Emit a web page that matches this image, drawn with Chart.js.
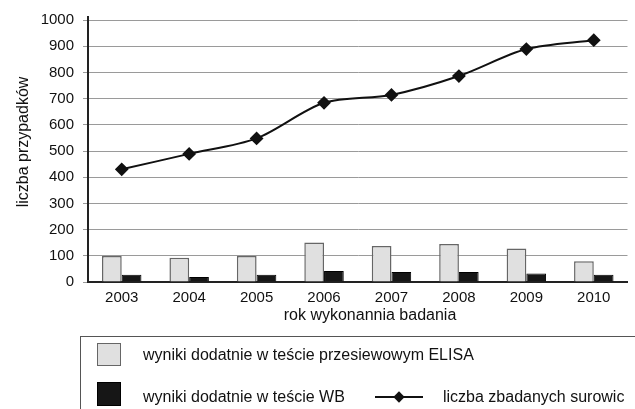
<!DOCTYPE html>
<html>
<head>
<meta charset="utf-8">
<script src="https://cdn.jsdelivr.net/npm/chart.js@4/dist/chart.umd.min.js"></script>
<style>
  html, body { margin: 0; padding: 0; background: #fff; }
  #wrap { position: relative; width: 635px; height: 409px; overflow: hidden; font-family: "Liberation Sans", Arial, sans-serif; }
  #c { position: absolute; left: 0; top: 0; }
  .legbox { position: absolute; left: 80px; top: 336px; width: 600px; height: 120px; border: 1px solid #555; box-sizing: border-box; }
  .sq { position: absolute; box-sizing: border-box; }
  .lt { position: absolute; font-size: 16px; color: #111; line-height: 18px; white-space: nowrap; }
  .lline { position: absolute; height: 2px; background: #111; }
  .ldia { position: absolute; width: 8px; height: 8px; background: #111; transform: rotate(45deg); }
</style>
</head>
<body>
<div id="wrap">
  <canvas id="c" width="635" height="409"></canvas>
  <div class="legbox"></div>
  <div class="sq" style="left:97px;top:343px;width:24px;height:23px;background:#e0e0e0;border:1px solid #666;"></div>
  <div class="lt" style="left:143px;top:346px;">wyniki dodatnie w teście przesiewowym ELISA</div>
  <div class="sq" style="left:97px;top:382px;width:24px;height:24px;background:#161616;border:1px solid #000;"></div>
  <div class="lt" style="left:143px;top:388px;">wyniki dodatnie w teście WB</div>
  <div class="lline" style="left:375px;top:396px;width:48px;"></div>
  <div class="ldia" style="left:395px;top:393px;"></div>
  <div class="lt" style="left:443px;top:388px;">liczba zbadanych surowic</div>
</div>
<script>
const years = ["2003","2004","2005","2006","2007","2008","2009","2010"];
const elisaPositive = [99, 93, 99, 151, 137, 145, 128, 79];
const wbPositive = [28, 19, 28, 42, 38, 38, 32, 28];
const testedSera = [430, 489, 548, 684, 714, 786, 889, 923];
const yTicks = [0,100,200,300,400,500,600,700,800,900,1000];
const yTitle = "liczba przypadków";
const xTitle = "rok wykonannia badania";

const titlesPlugin = {
  id: 'axisTitles',
  afterDraw(chart) {
    const ctx = chart.ctx;
    ctx.save();
    ctx.fillStyle = '#111';
    ctx.font = '16px "Liberation Sans", Arial, sans-serif';
    ctx.textAlign = 'center';
    ctx.textBaseline = 'middle';
    ctx.fillText(xTitle, 370, 316);
    ctx.translate(24, 142);
    ctx.rotate(-Math.PI / 2);
    ctx.fillText(yTitle, 0, 0);
    ctx.restore();
    // y axis line extends slightly above the top gridline
    const a = chart.chartArea;
    ctx.save();
    ctx.strokeStyle = '#222';
    ctx.lineWidth = 2;
    ctx.beginPath();
    ctx.moveTo(a.left, a.top);
    ctx.lineTo(a.left, a.top - 4);
    ctx.stroke();
    ctx.restore();
  }
};

new Chart(document.getElementById('c'), {
  data: {
    labels: years,
    datasets: [
      {
        type: 'line',
        label: 'liczba zbadanych surowic',
        data: testedSera,
        borderColor: '#111',
        borderWidth: 2,
        tension: 0.3,
        pointStyle: 'rectRot',
        pointRadius: 5.5,
        pointBackgroundColor: '#111',
        pointBorderColor: '#111',
        fill: false,
        order: 0
      },
      {
        type: 'bar',
        label: 'wyniki dodatnie w teście przesiewowym ELISA',
        data: elisaPositive,
        backgroundColor: '#e0e0e0',
        borderColor: '#666',
        borderWidth: 1.5,
        categoryPercentage: 0.585,
        barPercentage: 1.0,
        order: 1
      },
      {
        type: 'bar',
        label: 'wyniki dodatnie w teście WB',
        data: wbPositive,
        backgroundColor: '#161616',
        borderColor: '#000',
        borderWidth: 1,
        categoryPercentage: 0.585,
        barPercentage: 1.0,
        order: 1
      }
    ]
  },
  options: {
    responsive: false,
    animation: false,
    layout: { padding: { left: 0, right: 0, top: 20, bottom: 0 } },
    plugins: { legend: { display: false }, tooltip: { enabled: false } },
    scales: {
      x: {
        type: 'category',
        offset: true,
        grid: { display: false, drawTicks: false },
        border: { display: true, color: '#222', width: 2 },
        ticks: { color: '#111', font: { family: '"Liberation Sans", Arial, sans-serif', size: 15 }, padding: 7, maxRotation: 0 },
        afterFit(scale) { scale.height = 127; }
      },
      y: {
        min: 0,
        max: 1000,
        afterBuildTicks(scale) { scale.ticks = yTicks.map(v => ({ value: v })); },
        grid: { color: '#9a9a9a', lineWidth: 1, tickLength: 5, drawTicks: true },
        border: { display: true, color: '#222', width: 2 },
        ticks: { color: '#111', font: { family: '"Liberation Sans", Arial, sans-serif', size: 15 }, padding: 9, callback: (v) => String(v) },
        afterFit(scale) { scale.width = 88; }
      }
    }
  },
  plugins: [titlesPlugin]
});
</script>
</body>
</html>
